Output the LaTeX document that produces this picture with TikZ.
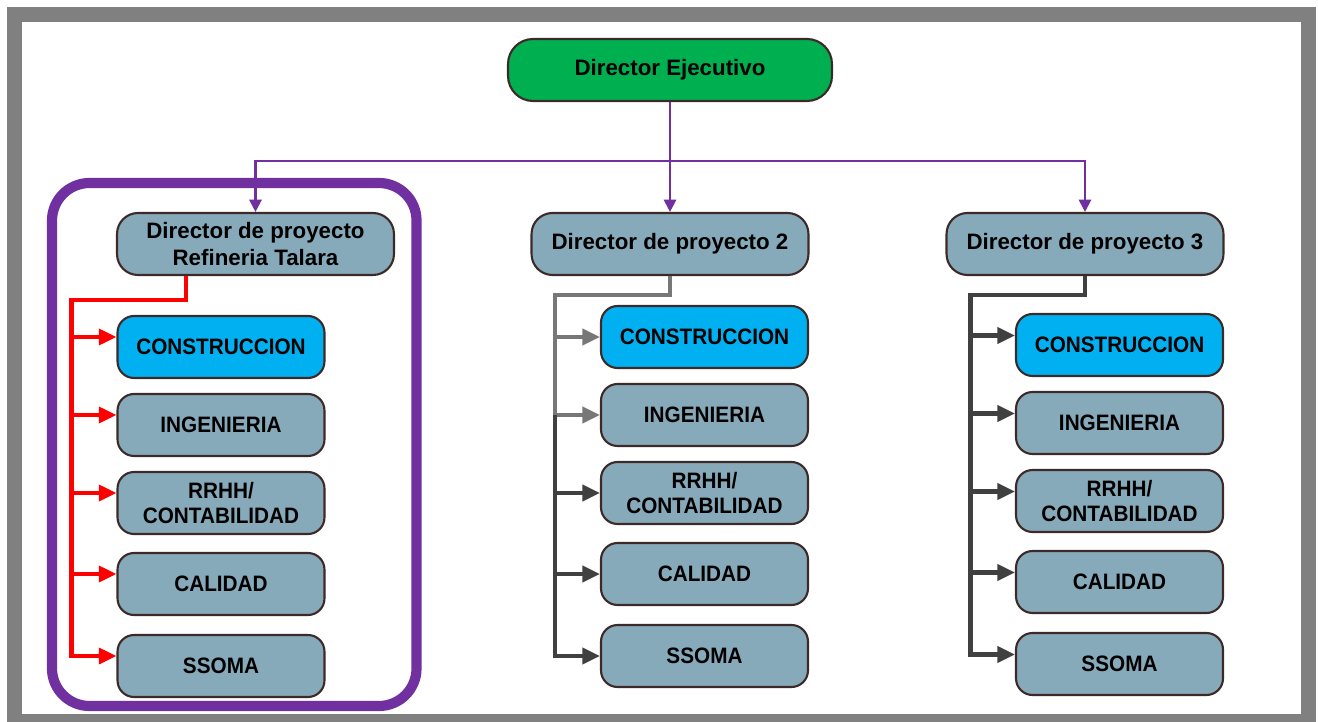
\documentclass[tikz,border=0pt]{standalone}
\usepackage{fontspec}
\setmainfont{Liberation Sans}
\newfontfamily\areafont{Liberation Sans}[FakeStretch=0.93]
\usetikzlibrary{arrows.meta}

\definecolor{marco}{HTML}{808080}
\definecolor{verdeDE}{HTML}{00B050}
\definecolor{morado}{HTML}{7030A0}
\definecolor{grisAzul}{HTML}{87AABB}
\definecolor{celeste}{HTML}{00B0F0}
\definecolor{bordeCaja}{HTML}{3C2A28}
\definecolor{grisClaro}{HTML}{777777}
\definecolor{grisOscuro}{HTML}{404040}

\tikzset{
  caja/.style={draw=bordeCaja, line width=1.2pt, fill=grisAzul, rounded corners=0.33cm,
    minimum width=4.14cm, minimum height=1.24cm, inner sep=0pt, align=center,
    font=\areafont\bfseries\fontsize{12.7}{14.5}\selectfont},
  construccion/.style={caja, fill=celeste},
  director/.style={caja, minimum width=5.54cm, rounded corners=0.42cm,
    font=\bfseries\fontsize{12.7}{15.4}\selectfont},
  ejecutivo/.style={director, fill=verdeDE, minimum width=6.48cm, rounded corners=0.5cm},
  enlace/.style={morado, line width=1.2pt, -{Triangle[length=7pt,width=7pt]}},
  punta/.style={-{Triangle[length=10pt,width=9pt]}},
  ramaRoja/.style={red, line width=2.3pt},
  ramaClara/.style={grisClaro, line width=2.5pt},
  ramaOscura/.style={grisOscuro, line width=2.5pt}
}

\begin{document}
\begin{tikzpicture}[x=0.02cm, y=-0.02cm]
    \useasboundingbox (0,0) rectangle (1318,722);
    \fill[marco] (7,7) rectangle (1316,722);
    \fill[white] (22,22) rectangle (1301,714);

    % recuadro del proyecto Talara
    \draw[morado, line width=5.8pt, rounded corners=0.75cm] (52,183) rectangle (416.5,706);

    \node[ejecutivo] (de) at (670,70) {Director Ejecutivo};
    \node[director] (dp1) at (255.5,244) {Director de proyecto\\Refineria Talara};
    \node[director] (dp2) at (670,244) {Director de proyecto 2};
    \node[director] (dp3) at (1085,244) {Director de proyecto 3};

    \foreach \col/\x/\dy in {1/221/0, 2/704.5/-10, 3/1119.5/-2}{
        \node[construccion] (c\col a) at (\x,347+\dy) {CONSTRUCCION};
        \node[caja] (c\col b) at (\x,425+\dy) {INGENIERIA};
        \node[caja] (c\col c) at (\x,503+\dy) {RRHH/\\CONTABILIDAD};
        \node[caja] (c\col d) at (\x,584+\dy) {CALIDAD};
        \node[caja] (c\col e) at (\x,666+\dy) {SSOMA};
    }

    % director ejecutivo a los directores
    \coordinate (h) at (670,161);
    \draw[enlace] (de.south) -- (dp2.north);
    \draw[enlace] (h) -| (dp1.north);
    \draw[enlace] (h) -| (dp3.north);

    % columna 1
    \coordinate (r1) at (186,300);
    \coordinate (s1) at (71.5,300);
    \coordinate (p1) at ([yshift=0.2cm]c1e.west);
    \draw[ramaRoja, punta] (r1 |- dp1.south) -- (r1) -- (s1) |- (p1);
    \foreach \b in {a,...,d}{
        \coordinate (q) at ([yshift=0.2cm]c1\b.west);
        \draw[ramaRoja, punta] (q -| s1) -- (q);
    }

    % columna 2
    \coordinate (r2) at (670,295);
    \coordinate (s2) at (555,295);
    \draw[ramaClara, punta] (r2 |- dp2.south) -- (r2) -- (s2) |- (c2b.west);
    \draw[ramaClara, punta] (c2a.west -| s2) -- (c2a.west);
    \draw[ramaOscura, punta] (c2b.west -| s2) |- (c2e.west);
    \foreach \b in {c,d}
        \draw[ramaOscura, punta] (c2\b.west -| s2) -- (c2\b.west);

    % columna 3
    \coordinate (r3) at (1085,295);
    \coordinate (s3) at (970.5,295);
    \coordinate (p3) at ([yshift=0.19cm]c3e.west);
    \draw[ramaOscura, punta] (r3 |- dp3.south) -- (r3) -- (s3) |- (p3);
    \foreach \b in {a,...,d}{
        \coordinate (q) at ([yshift=0.19cm]c3\b.west);
        \draw[ramaOscura, punta] (q -| s3) -- (q);
    }
\end{tikzpicture}
\end{document}
